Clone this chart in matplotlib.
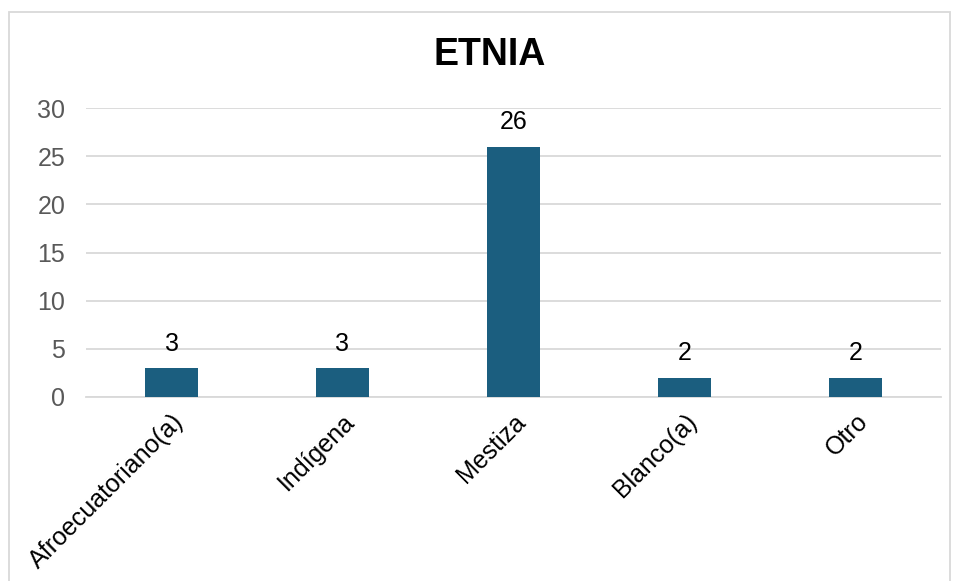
import matplotlib
matplotlib.use("Agg")
import matplotlib.pyplot as plt
from matplotlib.patches import Rectangle

categories = ["Afroecuatoriano(a)", "Indígena", "Mestiza", "Blanco(a)", "Otro"]
values = [3, 3, 26, 2, 2]
yticks = [0, 5, 10, 15, 20, 25, 30]
title = "ETNIA"

plt.rcParams['font.family'] = ['Liberation Sans', 'DejaVu Sans']

fig = plt.figure(figsize=(9.56, 5.81), dpi=100)
ax = fig.add_axes([86/956, 1-397/581, (941-86)/956, (397-108)/581])

x = list(range(len(categories)))
bars = ax.bar(x, values, width=0.31, color='#1B5E7F', zorder=3)
ax.set_xlim(-0.5, len(categories)-0.5)
ax.set_ylim(0, 30)
ax.set_yticks(yticks)
ax.yaxis.grid(True, color='#d9d9d9', linewidth=1.3, zorder=0)
for s in ['top', 'right', 'left']:
    ax.spines[s].set_visible(False)
ax.spines['bottom'].set_color('#d9d9d9')
ax.spines['bottom'].set_linewidth(1.3)
ax.tick_params(axis='y', length=0, labelsize=18, labelcolor='#595959', pad=15)
ax.tick_params(axis='x', length=0, labelsize=18, labelcolor='#000000', pad=9)
ax.set_xticks(x)
ax.set_xticklabels(categories, rotation=45, ha='right', va='top', rotation_mode='anchor')

for xi, v in zip(x, values):
    ax.annotate(str(v), (xi, v), xytext=(0, 9), textcoords='offset points',
                ha='center', va='bottom', fontsize=18, color='#000000')

fig.text(490/956, 1-55/581, title, ha='center', va='center', fontsize=27, fontweight='bold')

fig.patches.append(Rectangle((9/956, -0.01), (950-9)/956, 1-12/581+0.01, transform=fig.transFigure,
                             fill=False, edgecolor='#d9d9d9', linewidth=1.3))

fig.savefig('out.png', dpi=100, facecolor='white')
